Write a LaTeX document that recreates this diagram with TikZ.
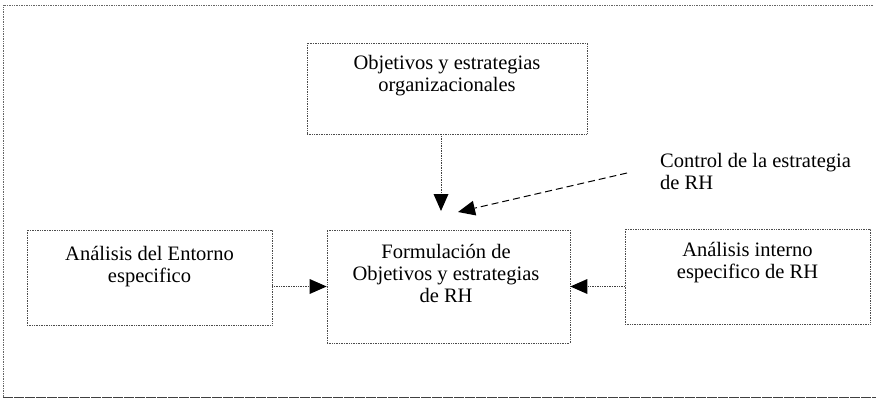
\documentclass[tikz,border=0pt]{standalone}
\usepackage{fontspec}
\setmainfont{Liberation Serif}
\usetikzlibrary{arrows.meta}
\begin{document}
\begin{tikzpicture}[x=1pt,y=-1pt,
  box/.style={draw=black!70, line width=0.7pt, densely dotted, inner sep=0pt},
  txt/.style={align=center, inner sep=0pt, font=\fontsize{20.5}{22}\selectfont},
  conn/.style={draw=black!75, line width=0.7pt, densely dotted, -{Triangle[length=17pt,width=15pt,fill=black,line width=0pt]}},
  ctrlconn/.style={draw=black, line width=1pt, dash pattern=on 7pt off 4pt, -{Triangle[length=17pt,width=15pt,line width=0pt]}},
  frame/.style={draw=black!60, line width=0.7pt, densely dotted}]
\useasboundingbox (0,0) rectangle (876,402);
\draw[frame] (873,5) -- (3,5) -- (3,397);
\draw[draw=black!75, line width=0.8pt, dash pattern=on 10pt off 1pt] (3,397) -- (876,397);
% boxes
\node[box, minimum width=280pt, minimum height=91pt] (top) at (447,88.5) {};
\node[box, minimum width=243pt, minimum height=113pt] (center) at (448.5,286.5) {};
\node[box, minimum width=245pt, minimum height=95pt] (left) at (149.5,277.5) {};
\node[box, minimum width=245pt, minimum height=95pt] (right) at (747.5,276.5) {};
% texts (base anchor = baseline of the last line)
\node[txt, anchor=base] (toptxt) at (447,91) {Objetivos y estrategias\\organizacionales};
\node[txt, anchor=base] (centertxt) at (446,302) {Formulación de\\Objetivos y estrategias\\de RH};
\node[txt, anchor=base] (lefttxt) at (149.5,282) {Análisis del Entorno\\especifico};
\node[txt, anchor=base] (righttxt) at (747.5,278) {Análisis interno\\especifico de RH};
\node[txt, align=left, anchor=base west] (ctrl) at (660,189) {Control de la estrategia\\de RH};
% connectors
\coordinate (downtip) at (441,211);
\coordinate (ctrlstart) at (627,173);
\coordinate (ctrltip) at (458,212);
\draw[conn] (top.south -| downtip) -- (downtip);
\draw[ctrlconn] (ctrlstart) -- (ctrltip);
\draw[conn] (center.west -| left.east) -- (center.west);
\draw[conn] (center.east -| right.west) -- (center.east);
\end{tikzpicture}
\end{document}
